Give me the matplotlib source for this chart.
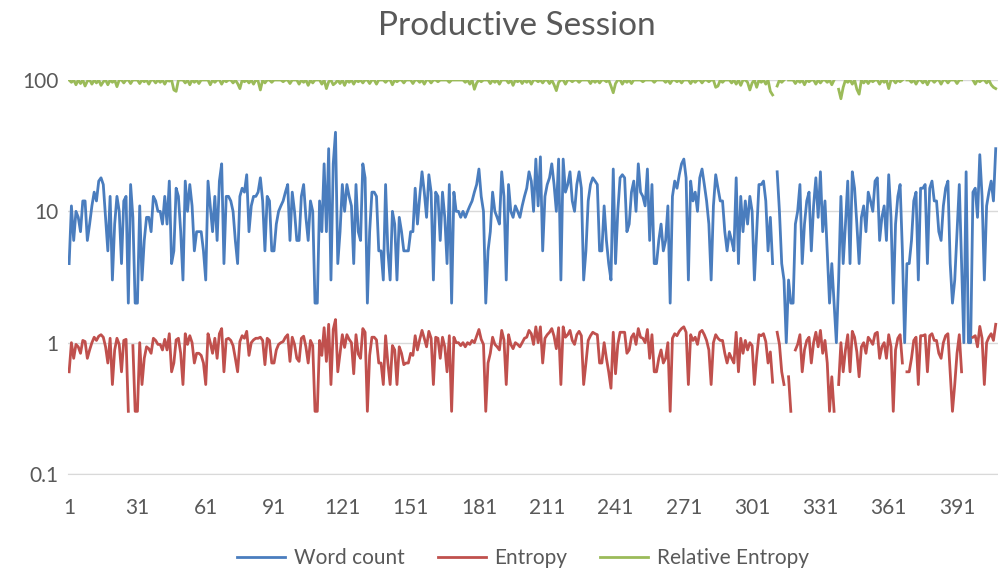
import numpy as np
import matplotlib
matplotlib.use("Agg")
import matplotlib.pyplot as plt

nan = float("nan")

# word count per sentence (log scale)
word_count = [
    4, 11, 6, 10, 9, 7, 12, 12, 6, 8,
    11, 14, 12, 17, 18, 16, 9, 5, 13, 3,
    8, 13, 10, 4, 12, 13, 2, 16, 9, 2,
    2, 11, 3, 6, 9, 9, 7, 13, 12, 10,
    10, 8, 13, 8, 17, 4, 5, 15, 13, 7,
    3, 17, 10, 16, 11, 5, 7, 7, 7, 5,
    3, 17, 11, 7, 13, 6, 17, 23, 4, 13,
    13, 12, 10, 6, 4, 13, 15, 14, 19, 7,
    11, 13, 13, 14, 18, 12, 5, 13, 12, 5,
    5, 8, 10, 11, 12, 14, 16, 6, 14, 10,
    6, 6, 13, 16, 9, 6, 12, 10, 2, 2,
    12, 7, 23, 7, 30, 3, 23, 40, 4, 7,
    16, 10, 16, 13, 11, 4, 16, 7, 6, 23,
    18, 2, 7, 14, 14, 13, 5, 5, 3, 16,
    5, 3, 10, 8, 3, 9, 7, 5, 5, 5,
    7, 7, 15, 8, 13, 20, 14, 9, 19, 14,
    3, 14, 13, 6, 14, 9, 4, 16, 2, 14,
    10, 10, 9, 10, 9, 10, 11, 12, 14, 16,
    21, 13, 10, 2, 5, 7, 14, 10, 9, 8,
    20, 13, 3, 16, 10, 9, 11, 10, 9, 11,
    13, 15, 20, 17, 10, 25, 11, 26, 5, 13,
    16, 18, 23, 16, 10, 25, 3, 25, 14, 16,
    20, 12, 10, 16, 20, 15, 3, 5, 12, 16,
    18, 17, 16, 5, 5, 11, 6, 4, 3, 21,
    4, 10, 18, 19, 18, 7, 8, 14, 17, 10,
    23, 14, 13, 11, 21, 6, 16, 4, 4, 6,
    8, 5, 6, 11, 2, 13, 17, 15, 19, 23,
    25, 18, 3, 17, 12, 14, 10, 18, 21, 16,
    12, 8, 3, 11, 19, 15, 12, 12, 7, 5,
    7, 6, 5, 18, 4, 13, 7, 12, 8, 13,
    10, 3, 7, 16, 16, 17, 12, 5, 9, 4,
    nan, 20, 10, 4, 3, 1, 3, 2, 2, 8,
    10, 16, 4, 8, 12, 14, 5, 11, 18, 9,
    20, 7, 12, 5, 2, 4, 2, 1, 3, 13,
    4, 8, 17, 4, 20, 15, 8, 4, 9, 11,
    7, 14, 12, 10, 17, 18, 6, 9, 11, 6,
    19, 9, 2, 8, 13, 16, 5, 1, 4, 4,
    6, 12, 14, 3, 15, 15, 16, 4, 15, 17,
    12, 12, 7, 6, 11, 15, 17, 4, 2, 3,
    7, 16, 4, 1, 20, 1, 1, 14, 15, 9,
    27, 13, 3, 11, 14, 17, 12, 30,
]

entropy = [
    0.60, 1.0, 0.76, 0.97, 0.93, 0.83, 1.04, 1.02, 0.76, 0.88,
    1.0, 1.1, 1.04, 1.12, 1.15, 1.1, 0.93, 0.70, 1.08, 0.48,
    0.88, 1.08, 0.97, 0.60, 1.04, 1.06, 0.30, nan, 0.95, 0.30,
    0.30, 1.0, 0.48, 0.76, 0.93, 0.90, 0.83, 1.08, 1.04, 0.97,
    0.97, 0.88, 1.06, 0.88, 1.17, 0.60, 0.70, 1.05, 1.08, 0.83,
    0.48, 1.17, 0.97, 1.13, 1.0, 0.70, 0.83, 0.83, 0.80, 0.70,
    0.48, 1.17, 1.0, 0.83, 1.08, 0.76, 1.17, 1.28, 0.60, 1.06,
    1.08, 1.04, 0.95, 0.76, 0.60, 1.02, 1.13, 1.08, 1.22, 0.80,
    1.0, 1.05, 1.08, 1.08, 1.1, 1.04, 0.68, 1.08, 1.04, 0.70,
    0.70, 0.88, 0.97, 1.0, 1.02, 1.1, 1.15, 0.72, 1.1, 0.97,
    0.76, 0.72, 1.08, 1.12, 0.93, 0.70, 1.04, 0.95, 0.30, 0.30,
    1.04, 0.80, 1.3, 0.72, 1.38, 0.48, 1.26, 1.5, 0.60, 0.83,
    1.15, 0.92, 1.15, 1.06, 1.0, 0.58, 1.15, 0.82, 0.76, 1.28,
    1.2, 0.30, 0.80, 1.1, 1.1, 1.05, 0.70, 0.70, 0.48, 1.13,
    0.70, 0.48, 0.95, 0.88, 0.48, 0.93, 0.83, 0.68, 0.70, 0.70,
    0.83, 0.80, 1.13, 0.88, 1.06, 1.24, 1.08, 0.93, 1.22, 1.08,
    0.48, 1.1, 1.08, 0.76, 1.1, 0.93, 0.60, 1.13, 0.30, 1.1,
    1.0, 1.0, 0.95, 1.0, 0.93, 1.0, 0.97, 1.04, 1.0, 1.12,
    1.26, 1.06, 0.97, 0.30, 0.70, 0.83, 1.1, 0.97, 0.93, 0.88,
    1.24, 1.05, 0.48, 1.15, 0.97, 0.90, 1.0, 0.97, 0.93, 1.0,
    1.08, 1.1, 1.24, 1.17, 0.97, 1.32, 1.0, 1.32, 0.70, 1.08,
    1.15, 1.2, 1.28, 1.12, 0.90, 1.3, 0.48, 1.32, 1.1, 1.15,
    1.24, 1.04, 0.97, 1.15, 1.22, 1.13, 0.48, 0.70, 1.04, 1.13,
    1.2, 1.17, 1.15, 0.70, 0.70, 1.0, 0.76, 0.60, 0.45, 1.2,
    0.58, 0.97, 1.2, 1.2, 1.2, 0.83, 0.88, 1.1, 1.17, 0.97,
    1.28, 1.1, 1.08, 1.0, 1.26, 0.76, 1.15, 0.60, 0.60, 0.76,
    0.88, 0.70, 0.76, 1.0, 0.30, 1.08, 1.17, 1.13, 1.22, 1.28,
    1.32, 1.2, 0.48, 1.15, 1.04, 1.1, 0.97, 1.2, 1.24, 1.15,
    1.04, 0.88, 0.48, 1.0, 1.15, 1.08, 1.04, 1.04, 0.83, 0.70,
    0.83, 0.76, 0.70, 1.2, 0.60, 1.08, 0.83, 1.04, 0.88, 1.0,
    0.95, 0.48, 0.78, 1.15, 1.13, 1.17, 1.02, 0.70, 0.85, 0.50,
    nan, 1.2, 0.97, 0.60, 0.48, nan, 0.55, 0.30, nan, 0.88,
    0.97, 1.15, 0.60, 0.88, 1.04, 1.1, 0.70, 1.0, 1.2, 0.93,
    1.24, 0.83, 1.04, 0.70, 0.30, 0.55, 0.30, nan, 0.48, 1.0,
    0.60, 0.88, 1.15, 0.60, 1.22, 1.1, 0.85, 0.55, 0.93, 1.0,
    0.83, 1.1, 1.04, 0.97, 1.17, 1.2, 0.76, 0.93, 1.0, 0.76,
    1.15, 0.93, 0.30, 0.88, 1.08, 1.15, 0.70, nan, 0.60, 0.60,
    0.76, 1.04, 1.1, 0.48, 1.13, 1.13, 1.15, 0.60, 1.13, 1.17,
    1.04, 1.04, 0.83, 0.76, 1.0, 1.13, 1.17, 0.60, 0.30, 0.48,
    0.83, 1.15, 0.60, nan, 1.24, nan, nan, 1.1, 1.13, 0.93,
    1.33, 1.08, 0.48, 1.0, 1.1, 1.17, 1.04, 1.38,
]

relative_entropy = [
    100, 96, 100, 92, 100, 94, 100, 90, 98, 100,
    93, 100, 95, 100, 91, 97, 100, 92, 100, 96,
    100, 89, 100, 100, 95, 100, 100, 94, 100, 100,
    100, 94, 100, 97, 100, 93, 100, 100, 95, 100,
    96, 100, 93, 100, 98, 100, 84, 82, 100, 100,
    100, 95, 100, 92, 100, 96, 100, 94, 100, 100,
    100, 100, 92, 100, 96, 100, 100, 93, 100, 97,
    100, 100, 95, 100, 94, 86, 100, 97, 100, 95,
    100, 93, 100, 98, 84, 100, 95, 100, 100, 96,
    100, 100, 100, 100, 97, 100, 100, 94, 100, 100,
    100, 93, 100, 96, 100, 91, 100, 95, 100, 100,
    100, 93, 100, 86, 97, 100, 92, 95, 100, 94,
    100, 91, 100, 96, 100, 93, 100, 97, 100, 95,
    100, 100, 94, 100, 100, 93, 100, 100, 100, 96,
    100, 100, 92, 100, 97, 100, 100, 95, 100, 100,
    100, 94, 100, 100, 96, 100, 93, 100, 100, 95,
    100, 100, 97, 100, 100, 100, 100, 96, 100, 100,
    100, 100, 100, 100, 96, 100, 93, 100, 85, 95,
    100, 97, 100, 100, 100, 94, 100, 96, 100, 93,
    100, 100, 100, 95, 100, 91, 100, 97, 100, 94,
    100, 96, 100, 93, 100, 100, 97, 100, 95, 100,
    100, 94, 100, 92, 83, 96, 100, 100, 93, 100,
    100, 97, 100, 100, 96, 100, 100, 100, 100, 94,
    100, 96, 100, 95, 100, 100, 97, 100, 90, 80,
    94, 100, 100, 93, 100, 96, 100, 94, 100, 100,
    100, 100, 97, 100, 100, 100, 100, 96, 100, 100,
    100, 100, 96, 100, 94, 100, 100, 97, 100, 95,
    100, 100, 100, 94, 100, 96, 100, 100, 95, 100,
    100, 97, 100, 100, 88, 90, 100, 96, 100, 100,
    100, 95, 100, 93, 100, 91, 100, 100, 96, 84,
    95, 100, 88, 100, 96, 100, 93, 100, 82, 77,
    nan, 90, 100, 96, 100, nan, 100, 100, 100, 94,
    100, 96, 100, 92, 100, 97, 100, 100, 93, 100,
    95, 100, 100, 96, 100, 92, 100, nan, 85, 72,
    88, 100, 96, 100, 93, 100, 85, 78, 100, 95,
    100, 94, 100, 97, 100, 100, 93, 100, 96, 100,
    86, 100, 100, 95, 100, 97, 100, nan, 100, 100,
    96, 100, 93, 100, 100, 95, 100, 92, 100, 100,
    96, 100, 100, 93, 100, 100, 95, 100, 100, 100,
    94, 100, 100, nan, 95, nan, nan, 100, 93, 100,
    97, 100, 100, 95, 100, 92, 88, 86,
]

x_ticks = list(range(1, 392, 30))

text_col = "#595959"
plt.rcParams["font.family"] = ["Lato", "DejaVu Sans"]

fig = plt.figure(figsize=(9.98, 5.72), dpi=100)
ax = fig.add_axes([68 / 998, 1 - 474 / 572, 1 - 68 / 998, (474 - 80) / 572])

x = np.arange(1, len(word_count) + 1)
ax.plot(x, word_count, color="#4A7DBE", lw=2.0, label="Word count")
ax.plot(x, entropy, color="#C0504D", lw=2.0, label="Entropy")
ax.plot(x, relative_entropy, color="#9BBB59", lw=2.0, label="Relative Entropy")

ax.set_yscale("log")
ax.set_ylim(0.1, 100)
ax.set_xlim(0.5, 409)
ax.set_yticks([0.1, 1, 10, 100])
ax.set_yticklabels(["0.1", "1", "10", "100"])
ax.minorticks_off()
ax.set_xticks(x_ticks)
ax.tick_params(axis="both", length=0, labelsize=15, colors=text_col)
ax.tick_params(axis="x", pad=17)
ax.tick_params(axis="y", pad=7)
ax.grid(axis="y", color="#d9d9d9", lw=1)
ax.set_axisbelow(True)
for s in ["top", "right", "left"]:
    ax.spines[s].set_visible(False)
ax.spines["bottom"].set_color("#d9d9d9")

fig.text(0.518, 1 - 26 / 572, "Productive Session", ha="center", va="center",
         fontsize=24, color=text_col)
fig.legend(loc="center", bbox_to_anchor=(0.524, 1 - 558 / 572), ncol=3, frameon=False,
           fontsize=15, handlelength=2.3, handletextpad=0.4, columnspacing=1.6,
           labelcolor=text_col)

fig.savefig("out.png", dpi=100)
